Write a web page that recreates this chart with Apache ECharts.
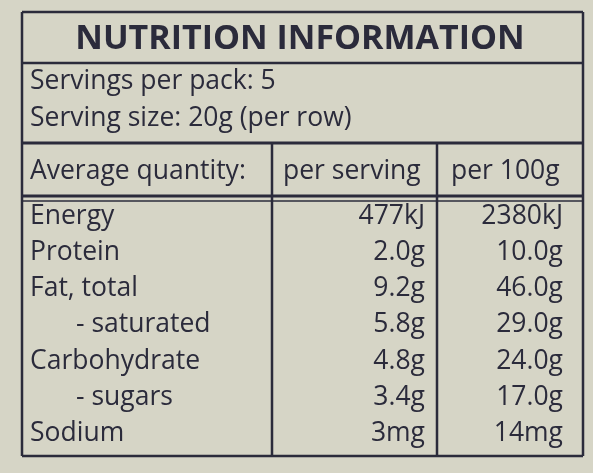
<!DOCTYPE html>
<html><head><meta charset="utf-8">
<script src="https://cdn.jsdelivr.net/npm/echarts@6/dist/echarts.min.js"></script>
<style>html,body{margin:0;padding:0;background:#d6d5c6}#c{width:593px;height:473px}</style>
</head><body><div id="c"></div>
<script>
const title = "NUTRITION INFORMATION";
const servingLines = ["Servings per pack: 5", "Serving size: 20g (per row)"];
const headers = ["Average quantity:", "per serving", "per 100g"];
const nutrients = ["Energy", "Protein", "Fat, total", "    - saturated", "Carbohydrate", "    - sugars", "Sodium"];
const perServing = ["477kJ", "2.0g", "9.2g", "5.8g", "4.8g", "3.4g", "3mg"];
const per100g = ["2380kJ", "10.0g", "46.0g", "29.0g", "24.0g", "17.0g", "14mg"];

const ink = "#2b2b3b";
const font = "'Open Sans', 'DejaVu Sans', sans-serif";
const chart = echarts.init(document.getElementById('c'));
const g = [];
function line(x1,y1,x2,y2,w){g.push({type:'line',shape:{x1,y1,x2,y2},style:{stroke:ink,lineWidth:w}});}
function text(t,x,y,opts){g.push({type:'text',x,y,style:Object.assign({text:t,fill:ink,font:'26.5px '+font,textVerticalAlign:'middle'},opts||{})});}
line(22,12,583,12,2.5); line(22,12,22,456,2.5); line(583,12,583,456,2.5); line(22,456,583,456,2.5);
line(22,63,583,63,2.5);
line(22,143,583,143,3);
line(22,196,583,196,3); line(22,201,583,201,1.5);
line(272,143,272,456,2.5); line(437,143,437,456,2.5);
text(title,300,39,{textAlign:'center',font:'bold 34px '+font});
servingLines.forEach((s,i)=>text(s,30,81+i*37));
text(headers[0],30,171); text(headers[1],283,171); text(headers[2],451,171);
nutrients.forEach((n,i)=>{
  const y=216+i*36.3;
  text(n.trim(), n.startsWith(' ')?76:30, y);
  text(perServing[i],425,y,{textAlign:'right'});
  text(per100g[i],563,y,{textAlign:'right'});
});
chart.setOption({backgroundColor:'#d6d5c6',graphic:g});
</script></body></html>
